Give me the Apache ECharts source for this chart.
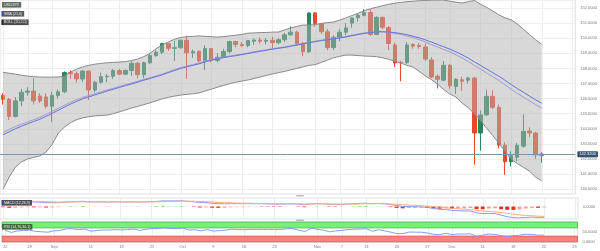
<!DOCTYPE html>
<html><head><meta charset="utf-8">
<script src="https://cdn.jsdelivr.net/npm/echarts@6/dist/echarts.min.js"></script>
<style>html,body{margin:0;padding:0;background:#fff}#c{width:600px;height:251px}</style>
</head><body><div id="c"></div>
<script>
// ---- categories (trading days, 2023) ----
const dates = ['08-22','08-23','08-24','08-25','08-28','08-29','08-30','08-31','09-01','09-04','09-05','09-06','09-07','09-08','09-11','09-12','09-13','09-14','09-15','09-18','09-19','09-20','09-21','09-22','09-25','09-26','09-27','09-28','09-29','10-02','10-03','10-04','10-05','10-06','10-09','10-10','10-11','10-12','10-13','10-16','10-17','10-18','10-19','10-20','10-23','10-24','10-25','10-26','10-27','10-30','10-31','11-01','11-02','11-03','11-06','11-07','11-08','11-09','11-10','11-13','11-14','11-15','11-16','11-17','11-20','11-21','11-22','11-23','11-24','11-27','11-28','11-29','11-30','12-01','12-04','12-05','12-06','12-07','12-08','12-11','12-12','12-13','12-14','12-15','12-18','12-19','12-20','12-21','12-22','12-25','12-26','12-27','12-28','12-29'];
// ---- x tick labels (category index -> text) ----
const xTickIdx  = [0,4,8,14,19,24,29,34,39,44,51,55,59,64,69,73,78,83,88,93];
const xTickText = ['22','29','Sep','11','18','25','Oct','9','16','23','Nov','7','13','20','27','Dec','11','18','22','29'];
// ---- OHLC ----
const opens = [146.20,145.95,144.82,145.85,146.42,146.50,146.17,146.10,145.50,146.20,
146.45,147.72,147.65,147.30,147.82,146.57,147.08,147.45,147.48,147.85,
147.62,147.86,148.34,147.58,148.37,148.85,149.07,149.64,149.33,149.37,
149.86,149.03,149.12,148.50,149.31,148.52,148.73,149.12,149.78,149.58,
149.52,149.80,149.88,149.80,149.86,149.70,149.90,150.22,150.40,149.65,
149.10,151.67,150.95,150.42,149.38,150.06,150.40,151.00,151.36,151.52,
151.70,150.25,151.38,150.70,149.55,148.40,148.38,149.58,149.52,149.42,
148.56,147.48,147.22,148.20,146.80,147.25,147.22,147.36,143.72,144.92,
146.15,145.42,142.92,141.82,142.12,142.85,143.85,143.72,142.24];
const highs = [146.35,146.05,146.10,146.64,146.75,147.37,146.35,146.35,146.45,146.60,
147.80,147.87,147.80,147.88,147.87,147.18,147.73,147.63,147.95,147.97,
147.93,148.46,148.42,148.45,148.97,149.20,149.70,149.71,149.82,149.91,
150.16,149.25,149.20,149.53,149.35,149.00,149.30,149.83,149.83,149.75,
149.88,149.96,150.05,150.00,150.10,150.00,150.35,150.78,150.50,149.75,
151.70,151.72,151.00,150.60,150.20,150.60,151.00,151.35,151.60,151.92,
151.90,151.45,151.43,150.80,149.70,148.50,149.75,149.68,149.68,149.65,
148.75,147.60,148.50,148.30,147.35,147.45,147.45,147.45,145.20,146.60,
146.55,145.60,143.10,142.50,143.05,144.95,144.10,143.80,142.45];
const lows = [145.60,144.58,144.75,145.50,146.20,145.60,145.70,145.35,144.45,146.00,
146.35,147.30,147.05,147.10,145.91,146.40,146.98,147.08,147.30,147.55,
147.58,147.50,147.32,147.35,148.30,148.77,148.95,149.16,148.50,149.30,
147.30,148.70,148.40,147.90,148.40,148.40,148.70,149.00,149.40,149.41,
149.40,149.55,149.65,149.60,149.30,149.60,149.75,150.15,149.52,148.80,
149.02,150.75,150.30,149.20,149.20,149.80,150.20,150.70,151.10,151.45,
150.15,150.20,150.60,149.22,148.10,147.15,148.30,149.30,149.30,148.50,
147.35,146.67,147.15,146.65,146.30,146.50,147.00,141.62,142.55,144.85,
145.30,142.70,140.95,141.50,141.85,142.75,143.45,142.00,141.75];
const closes = [145.95,144.82,145.85,146.42,146.50,145.85,145.84,145.50,146.20,146.45,
147.72,147.65,147.30,147.82,146.57,147.08,147.45,147.48,147.85,147.62,
147.86,148.34,147.58,148.37,148.85,149.07,149.64,149.33,149.37,149.86,
149.03,149.12,148.50,149.31,148.52,148.73,149.12,149.78,149.58,149.52,
149.84,149.88,149.80,149.86,149.70,149.90,150.22,150.40,149.65,149.10,
151.67,150.98,150.42,149.38,150.06,150.40,150.68,151.34,151.52,151.70,
150.25,151.38,150.73,149.65,148.36,148.38,149.55,149.48,149.45,148.62,
147.43,147.28,148.20,146.85,147.28,147.15,147.36,143.72,144.92,146.15,
145.42,142.92,141.82,142.22,142.90,143.82,143.72,142.26,142.32];
// ---- Bollinger (20,2) and SMA 21 ----
const bollUpper = [147.74,147.68,147.62,147.55,147.49,147.45,147.43,147.42,147.42,147.43,
147.48,147.75,147.95,148.10,148.20,148.28,148.33,148.37,148.40,148.42,
148.45,148.52,148.62,148.78,149.00,149.30,149.55,149.75,149.93,150.05,
150.10,150.12,150.15,150.12,150.10,150.08,150.10,150.15,150.20,150.25,
150.33,150.35,150.37,150.38,150.40,150.41,150.55,150.68,150.78,150.87,
150.87,150.90,150.98,151.03,151.07,151.20,151.34,151.50,151.65,151.82,
151.95,152.05,152.15,152.25,152.32,152.37,152.42,152.45,152.48,152.50,
152.52,152.53,152.52,152.45,152.38,152.33,152.42,152.50,152.25,152.05,
151.80,151.55,151.35,151.22,150.95,150.60,150.25,149.90,149.60];
const bollLower = [140.00,140.80,141.45,141.80,142.00,142.10,142.20,142.45,142.95,143.70,
144.10,144.40,144.60,144.72,144.80,144.85,144.88,144.91,145.00,145.12,
145.25,145.38,145.48,145.60,145.72,145.85,145.98,146.08,146.16,146.23,
146.28,146.32,146.37,146.50,146.62,146.75,146.87,146.98,147.08,147.16,
147.23,147.33,147.43,147.53,147.63,147.72,147.80,147.90,148.00,148.10,
148.20,148.25,148.40,148.55,148.70,148.80,148.88,148.88,148.85,148.82,
148.80,148.78,148.70,148.60,148.48,148.35,148.20,148.09,147.80,147.50,
147.25,146.95,146.60,146.30,146.10,145.70,145.40,145.00,144.55,144.05,
143.55,143.05,142.50,142.00,141.70,141.45,141.20,140.80,140.55];
const bollMid = [143.75,143.95,144.15,144.30,144.45,144.60,144.75,144.95,145.15,145.35,
145.55,145.75,145.92,146.08,146.20,146.32,146.45,146.57,146.68,146.80,
146.92,147.03,147.15,147.28,147.38,147.50,147.62,147.78,147.92,148.05,
148.15,148.25,148.36,148.48,148.60,148.68,148.75,148.82,148.88,148.95,
149.02,149.10,149.17,149.24,149.30,149.36,149.42,149.50,149.58,149.66,
149.74,149.80,149.87,149.93,149.99,150.05,150.12,150.20,150.28,150.35,
150.40,150.43,150.42,150.38,150.32,150.25,150.15,150.03,149.90,149.75,
149.58,149.42,149.25,149.10,148.90,148.68,148.45,148.20,147.95,147.70,
147.45,147.20,146.92,146.62,146.35,146.10,145.85,145.60,145.38];
const sma21 = [143.60,143.80,144.00,144.17,144.33,144.48,144.63,144.82,145.02,145.22,
145.43,145.63,145.81,145.98,146.11,146.24,146.37,146.50,146.62,146.74,
146.86,146.97,147.09,147.22,147.33,147.45,147.57,147.72,147.86,147.99,
148.10,148.20,148.30,148.42,148.54,148.63,148.71,148.78,148.84,148.91,
148.98,149.06,149.13,149.20,149.27,149.33,149.39,149.46,149.54,149.62,
149.70,149.77,149.84,149.90,149.96,150.02,150.08,150.16,150.24,150.31,
150.37,150.42,150.43,150.41,150.37,150.31,150.23,150.13,150.02,149.89,
149.74,149.59,149.43,149.28,149.10,148.90,148.68,148.44,148.20,147.96,
147.72,147.48,147.22,146.94,146.67,146.42,146.17,145.92,145.70];
// ---- MACD (12,26,9) ----
const macdLine = [0.85,0.72,0.70,0.72,0.74,0.68,0.66,0.58,0.57,0.58,
0.68,0.75,0.76,0.80,0.72,0.70,0.70,0.69,0.71,0.70,
0.69,0.72,0.68,0.70,0.74,0.78,0.85,0.86,0.86,0.88,
0.80,0.73,0.62,0.60,0.50,0.43,0.41,0.44,0.44,0.43,
0.44,0.43,0.42,0.41,0.38,0.37,0.39,0.41,0.36,0.28,
0.40,0.44,0.43,0.34,0.32,0.33,0.37,0.42,0.47,0.51,
0.44,0.46,0.42,0.31,0.14,0.01,-0.01,-0.03,-0.05,-0.13,
-0.29,-0.43,-0.46,-0.59,-0.64,-0.68,-0.69,-0.95,-1.07,-1.05,
-1.08,-1.31,-1.55,-1.69,-1.73,-1.66,-1.61,-1.66,-1.64];
const macdSignal = [0.95,0.92,0.88,0.85,0.83,0.80,0.77,0.73,0.70,0.68,
0.68,0.69,0.71,0.72,0.72,0.72,0.71,0.71,0.71,0.71,
0.70,0.70,0.70,0.70,0.71,0.72,0.75,0.77,0.79,0.81,
0.81,0.80,0.76,0.73,0.68,0.63,0.59,0.56,0.53,0.51,
0.50,0.48,0.47,0.46,0.44,0.43,0.42,0.42,0.41,0.38,
0.39,0.40,0.41,0.40,0.38,0.37,0.37,0.38,0.40,0.42,
0.42,0.43,0.43,0.40,0.35,0.28,0.22,0.17,0.12,0.07,
-0.01,-0.10,-0.18,-0.26,-0.34,-0.41,-0.47,-0.57,-0.67,-0.75,
-0.82,-0.92,-1.05,-1.18,-1.29,-1.36,-1.41,-1.46,-1.50];
const macdHist = [-0.10,-0.20,-0.18,-0.13,-0.09,-0.12,-0.11,-0.15,-0.13,-0.10,
0.00,0.06,0.05,0.08,0.00,-0.02,-0.01,-0.02,0.00,-0.01,
-0.01,0.02,-0.02,0.00,0.03,0.06,0.10,0.09,0.07,0.07,
-0.01,-0.07,-0.14,-0.13,-0.18,-0.20,-0.18,-0.12,-0.09,-0.08,
-0.06,-0.05,-0.05,-0.05,-0.06,-0.06,-0.03,-0.01,-0.05,-0.10,
0.01,0.04,0.02,-0.06,-0.06,-0.04,0.00,0.04,0.07,0.09,
0.02,0.03,-0.01,-0.09,-0.21,-0.27,-0.23,-0.20,-0.17,-0.20,
-0.28,-0.33,-0.28,-0.33,-0.30,-0.27,-0.22,-0.38,-0.40,-0.30,
-0.26,-0.39,-0.50,-0.51,-0.44,-0.30,-0.20,-0.20,-0.14];
// ---- RSI (14) ----
const rsi = [58,48,55,58,59,53,51,49,56,58,
66,66,62,65,54,58,60,60,62,60,
62,65,58,64,67,68,71,67,67,70,
60,61,56,62,55,57,59,64,62,61,
63,63,63,63,62,63,66,67,58,53,
70,63,59,51,56,58,62,64,65,66,
54,61,56,49,42,42,50,49,49,45,
38,37,44,37,40,40,41,28,34,40,
38,31,28,31,34,39,38,34,35];

const FONT = 'Liberation Sans';
const W = 578;
const chart = echarts.init(document.getElementById('c'), null, {renderer:'canvas'});

const candleData = opens.map((o,i)=>[o, closes[i], lows[i], highs[i]]);
const lastClose = closes[closes.length-1];

function xAxisCfg(gi, showLabel){
  return {type:'category', gridIndex:gi, data:dates, boundaryGap:true,
    axisLine:{show:false}, axisTick:{show:false}, splitLine:{show:false},
    axisLabel:{show:showLabel, fontSize:4, fontFamily:FONT, color:'#777', margin:3,
      interval:(idx)=>xTickIdx.indexOf(idx)>=0,
      formatter:(v,idx)=>{const k=xTickIdx.indexOf(idx); return k>=0?xTickText[k]:'';}}};
}
function vGrid(gi){
  return {type:'custom', xAxisIndex:gi, yAxisIndex:gi, z:0, silent:true,
    data:xTickIdx.map(i=>[i,0]), encode:{x:0,y:1},
    renderItem:(params, api)=>{
      const x = Math.round(api.coord([api.value(0), 0])[0])+0.5;
      const cs = params.coordSys;
      return {type:'line', shape:{x1:x,y1:cs.y,x2:x,y2:cs.y+cs.height}, style:{stroke:'#ececec', lineWidth:1}};
    }};
}
const histColors = macdHist.map((v,i)=>{
  const prev = i>0?macdHist[i-1]:v;
  if (v>=0) return v>=prev?'#3fd43f':'#9bef9b';
  return v<=prev?'#ff2424':'#ff9a9a';
});

const option = {
  animation:false,
  backgroundColor:'#ffffff',
  grid:[
    {left:0, top:0, width:W, height:194, show:true, borderColor:'#e0e0e0', borderWidth:1},
    {left:0, top:198, width:W, height:21, show:true, borderColor:'#e0e0e0', borderWidth:1},
    {left:0, top:222, width:W, height:20, show:true, borderColor:'#e0e0e0', borderWidth:1}
  ],
  xAxis:[xAxisCfg(0,false), xAxisCfg(1,false), xAxisCfg(2,true)],
  yAxis:[
    {type:'value', gridIndex:0, position:'right', min:139.68, max:152.53, splitNumber:12, minInterval:1, maxInterval:1,
      axisLine:{show:false}, axisTick:{show:false}, splitLine:{show:true, lineStyle:{color:'#efefef'}},
      axisLabel:{fontSize:4, fontFamily:FONT, color:'#777', margin:5, showMinLabel:false, showMaxLabel:false,
        formatter:v=>v.toFixed(4)}},
    {type:'value', gridIndex:1, position:'right', min:-1.9, max:1.3,
      axisLine:{show:false}, axisTick:{show:false}, splitLine:{show:false},
      axisLabel:{fontSize:4, fontFamily:FONT, color:'#777', margin:5, showMinLabel:false, showMaxLabel:false,
        formatter:v=>Math.abs(v)<1e-9?'0.0000':''}},
    {type:'value', gridIndex:2, position:'right', min:0, max:100, interval:50,
      axisLine:{show:false}, axisTick:{show:false}, splitLine:{show:false},
      axisLabel:{fontSize:4, fontFamily:FONT, color:'#777', margin:5, showMaxLabel:false,
        formatter:v=>v.toFixed(4)}}
  ],
  series:[
    vGrid(0), vGrid(1), vGrid(2),
    {type:'candlestick', name:'USD/JPY', xAxisIndex:0, yAxisIndex:0, z:2, barWidth:4, data:candleData,
      itemStyle:{color:'#26845f', color0:'#e5482b', borderColor:'#26845f', borderColor0:'#e5482b', borderWidth:1},
      markLine:{silent:true, symbol:['none','none'], animation:false,
        data:[{yAxis:lastClose}],
        lineStyle:{color:'#7f94aa', width:1, type:'solid'},
        label:{show:true, position:'end', formatter:p=>Number(p.value).toFixed(4), color:'#fff',
          backgroundColor:'#35516f', fontSize:4, fontFamily:FONT, padding:[1,2,1,2], distance:2, borderRadius:1}}},
    {type:'custom', name:'BOLL', xAxisIndex:0, yAxisIndex:0, z:3, silent:true,
      data:[[0, bollMid[0]]], encode:{x:0,y:1},
      renderItem:(params, api)=>{
        const up = bollUpper.map((v,i)=>api.coord([i,v]));
        const lo = bollLower.map((v,i)=>api.coord([i,v]));
        return {type:'group', children:[
          {type:'polygon', shape:{points:up.concat(lo.slice().reverse())}, style:{fill:'rgba(178,178,178,0.5)'}},
          {type:'polyline', shape:{points:up}, style:{stroke:'#8a8a8a', lineWidth:1, fill:null}},
          {type:'polyline', shape:{points:lo}, style:{stroke:'#8a8a8a', lineWidth:1, fill:null}}
        ]};
      }},
    {type:'line', name:'BOLL mid', xAxisIndex:0, yAxisIndex:0, z:4, data:bollMid, showSymbol:false, symbol:'none',
      lineStyle:{color:'#a49ccc', width:1}},
    {type:'line', name:'SMA', xAxisIndex:0, yAxisIndex:0, z:4, data:sma21, showSymbol:false, symbol:'none',
      lineStyle:{color:'#6475de', width:1}},
    {type:'bar', name:'Hist', xAxisIndex:1, yAxisIndex:1, barWidth:4, z:2,
      data:macdHist.map((v,i)=>({value:v, itemStyle:{color:histColors[i]}}))},
    {type:'line', name:'MACD', xAxisIndex:1, yAxisIndex:1, z:3, data:macdLine, showSymbol:false, symbol:'none',
      lineStyle:{color:'#8c9af2', width:1}},
    {type:'line', name:'Signal', xAxisIndex:1, yAxisIndex:1, z:3, data:macdSignal, showSymbol:false, symbol:'none',
      lineStyle:{color:'#ffb07a', width:1}},
    {type:'line', name:'RSI', xAxisIndex:2, yAxisIndex:2, z:3, data:rsi, showSymbol:false, symbol:'none',
      lineStyle:{color:'#8c9af2', width:1},
      markArea:{silent:true, data:[
        [{yAxis:70, itemStyle:{color:'#78f078', borderColor:'#3aa83a', borderWidth:0.6}},{yAxis:100}],
        [{yAxis:0, itemStyle:{color:'#ff7f7f', borderColor:'#cc4a4a', borderWidth:0.6}},{yAxis:30}]
      ]}}
  ],
  graphic:[
    {type:'text', x:2, y:2, z:100, style:{text:'USD/JPY', fill:'#eeeeee', font:'3.6px "Liberation Sans"', backgroundColor:'#5e6e66', padding:[0.8,2,0.8,2]}},
    {type:'text', x:2, y:11, z:100, style:{text:'SMA (21,0)', fill:'#eeeeee', font:'3.6px "Liberation Sans"', backgroundColor:'#555b60', padding:[0.8,2,0.8,2]}},
    {type:'rect', z:101, shape:{x:1.5,y:11,width:1,height:5.5}, style:{fill:'#1f3cff'}},
    {type:'text', x:2, y:19.5, z:100, style:{text:'BOLL (20,2,0)', fill:'#eeeeee', font:'3.6px "Liberation Sans"', backgroundColor:'#4a4a4a', padding:[0.8,2,0.8,2]}},
    {type:'rect', z:101, shape:{x:1.5,y:19.5,width:1,height:5.5}, style:{fill:'#000'}},
    {type:'text', x:2, y:200, z:100, style:{text:'MACD (12,26,9)', fill:'#eeeeee', font:'3.6px "Liberation Sans"', backgroundColor:'#4c4f55', padding:[0.8,2,0.8,2]}},
    {type:'rect', z:101, shape:{x:1.5,y:200,width:1,height:5.5}, style:{fill:'#1f3cff'}},
    {type:'text', x:2, y:224, z:100, style:{text:'RSI (14,70,30,1)', fill:'#eeeeee', font:'3.6px "Liberation Sans"', backgroundColor:'#3e6a3e', padding:[0.8,2,0.8,2]}},
    {type:'rect', z:100, shape:{x:296,y:195,width:8,height:1.6, r:0.8}, style:{fill:'#bdbdbd'}},
    {type:'rect', z:100, shape:{x:296,y:219.6,width:8,height:1.6, r:0.8}, style:{fill:'#bdbdbd'}}
  ]
};
chart.setOption(option);
</script>
</body></html>
